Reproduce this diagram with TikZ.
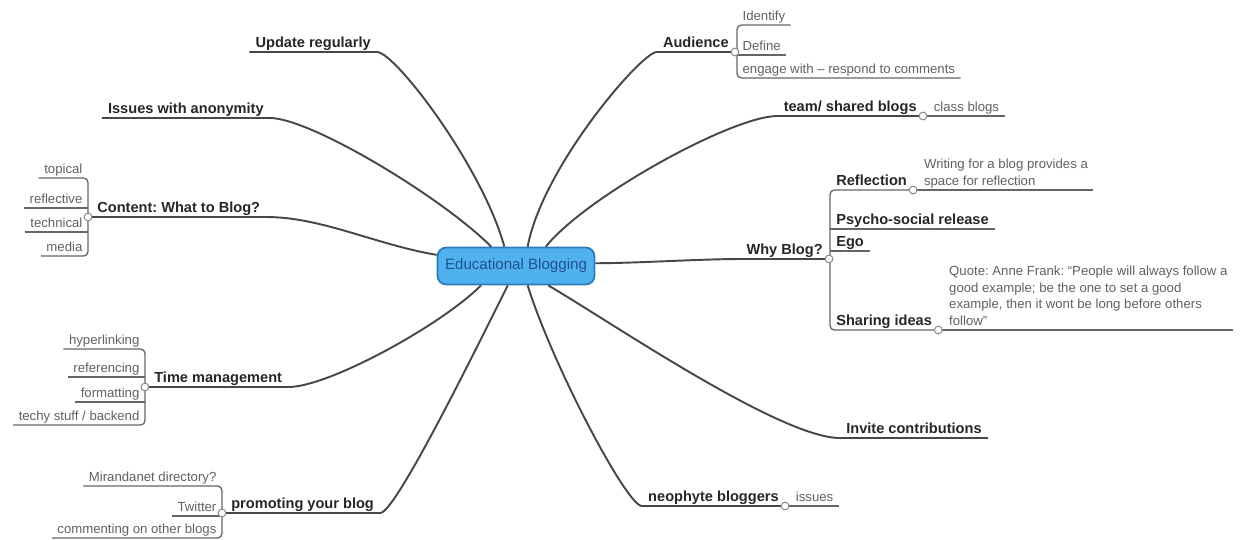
\documentclass[tikz,border=0pt]{standalone}
\usepackage{fontspec}
\setmainfont{Liberation Sans}
\usetikzlibrary{positioning}
\definecolor{rootfill}{HTML}{4FB2EE}
\definecolor{rootline}{HTML}{2C79BC}
\definecolor{roottext}{HTML}{21508F}
\frenchspacing
\begin{document}
\begin{tikzpicture}[x=0.02cm,y=-0.02cm,
  root/.style={draw=rootline,fill=rootfill,text=roottext,line width=1pt,rounded corners=5pt,
    minimum width=3.14cm,minimum height=0.74cm,font=\fontsize{8.6}{10}\selectfont},
  topic/.style={font=\fontsize{8.3}{10}\selectfont\bfseries,text=black!85,inner xsep=3.4pt,inner ysep=0.4pt,text depth=2pt},
  leaf/.style={font=\fontsize{7.5}{9.6}\selectfont,text=black!62,inner xsep=3pt,inner ysep=0.4pt,text depth=1.8pt,align=left},
  knob/.style={circle,draw=black!45,fill=white,line width=0.6pt,inner sep=0pt,minimum size=4.4pt},
  link/.style={draw=black!72,line width=1.1pt},
  twig/.style={draw=black!60,line width=0.75pt,rounded corners=2.5pt}]
\useasboundingbox (0,0) rectangle (1240,539);
\node[root] (root) at (516,266) {Educational Blogging};

\node[topic,anchor=south east] (upd) at (377,52) {Update regularly};
\node[topic,anchor=south east] (anon) at (270,118) {Issues with anonymity};
\coordinate (ck) at (88,217);
\node[topic,anchor=south west] (cont) at (91,217) {Content: What to Blog?};
\coordinate (tk) at (145,387);
\node[topic,anchor=south west] (time) at (148,387) {Time management};
\coordinate (pk) at (222,513);
\node[topic,anchor=south west] (prom) at (225,513) {promoting your blog};

\node[topic,anchor=south east] (aud) at (735,52) {Audience};
\node[topic,anchor=south east] (team) at (923,116) {team/ shared blogs};
\node[topic,anchor=south east] (why) at (829,259) {Why Blog?};
\node[topic,anchor=south west] (inv) at (840,438) {Invite contributions};
\node[topic,anchor=south east] (neo) at (785,506) {neophyte bloggers};
\coordinate (ak) at (aud.south east);
\coordinate (tsk) at (team.south east);
\coordinate (wk) at (why.south east);
\coordinate (nk) at (neo.south east);

\draw[link] (upd.south west) -- (upd.south east) .. controls +(18,0) and +(-22,-80) .. (root.121);
\draw[link] (anon.south west) -- (anon.south east) .. controls +(40,0) and +(-50,-50) .. (root.142);
\draw[link] (ck) -- (cont.south east) .. controls +(55,0) and +(-60,-10) .. (root.172);
\draw[link] (tk) -- (time.south east) .. controls +(40,0) and +(-40,40) .. (root.209);
\draw[link] (pk) -- (prom.south east) .. controls +(15,0) and +(-35,70) .. (root.247);
\draw[link] (ak) -- (aud.south west) .. controls +(-15,0) and +(15,-80) .. (root.59);
\draw[link] (tsk) -- (team.south west) .. controls +(-45,0) and +(40,-50) .. (root.33);
\draw[link] (wk) -- (why.south west) .. controls +(-40,0) and +(40,0) .. (root.2);
\draw[link] (inv.south east) -- (inv.south west) .. controls +(-60,0) and +(60,35) .. (root.329);
\draw[link] (nk) -- (neo.south west) .. controls +(-15,0) and +(25,80) .. (root.301);

\foreach \t/\y [count=\i] in {topical/178,reflective/208,technical/232,media/256}
  \node[leaf,anchor=south east] (c\i) at (88,\y) {\t};
\draw[twig] (c1.south west) -- (c1.south east) -- (c4.south east) -- (c4.south west);
\foreach \i in {2,3}
  \draw[twig] (c\i.south west) -- (c\i.south east);

\foreach \t/\y [count=\i] in {hyperlinking/349,referencing/377,formatting/402,{techy stuff / backend}/425}
  \node[leaf,anchor=south east] (t\i) at (145,\y) {\t};
\draw[twig] (t1.south west) -- (t1.south east) -- (t4.south east) -- (t4.south west);
\foreach \i in {2,3}
  \draw[twig] (t\i.south west) -- (t\i.south east);

\foreach \t/\y [count=\i] in {Mirandanet directory?/486,Twitter/516,commenting on other blogs/538}
  \node[leaf,anchor=south east] (p\i) at (222,\y) {\t};
\draw[twig] (p1.south west) -- (p1.south east) -- (p3.south east) -- (p3.south west);
\draw[twig] (p2.south west) -- (p2.south east);

\foreach \t/\y [count=\i] in {Identify/25,Define/55,engage with -- respond to comments/78}
  \node[leaf,anchor=south west] (a\i) at (737,\y) {\t};
\draw[twig] (a1.south east) -- (a1.south west) -- (a3.south west) -- (a3.south east);
\draw[twig] (a2.south west) -- (a2.south east);

\node[leaf,above right=0pt and 3pt of tsk] (cls) {class blogs};
\draw[twig] (tsk) -- (cls.south east);
\node[leaf,above right=0pt and 3pt of nk] (iss) {issues};
\draw[twig] (nk) -- (iss.south east);

\foreach \t/\y [count=\i] in {Reflection/190,Psycho-social release/229,Ego/251,Sharing ideas/330}
  \node[topic,anchor=south west] (w\i) at (830,\y) {\t};
\draw[twig] (w1.south east) -- (w1.south west) -- (w4.south west) -- (w4.south east);
\foreach \i in {2,3}
  \draw[twig] (w\i.south west) -- (w\i.south east);
\coordinate (rk) at (w1.south east);
\coordinate (sk) at (w4.south east);
\node[leaf,above right=0pt and 3pt of rk] (note) {Writing for a blog provides a\\space for reflection};
\draw[twig] (rk) -- (note.south east);
\node[leaf,above right=0pt and 3pt of sk] (quote) {Quote: Anne Frank: “People will always follow a\\good example; be the one to set a good\\example, then it wont be long before others\\follow”};
\draw[twig] (sk) -- (quote.south east);

\foreach \k in {ck,tk,pk,ak,tsk,wk,rk,sk,nk}
  \node[knob] (\k o) at (\k) {};
\end{tikzpicture}
\end{document}
